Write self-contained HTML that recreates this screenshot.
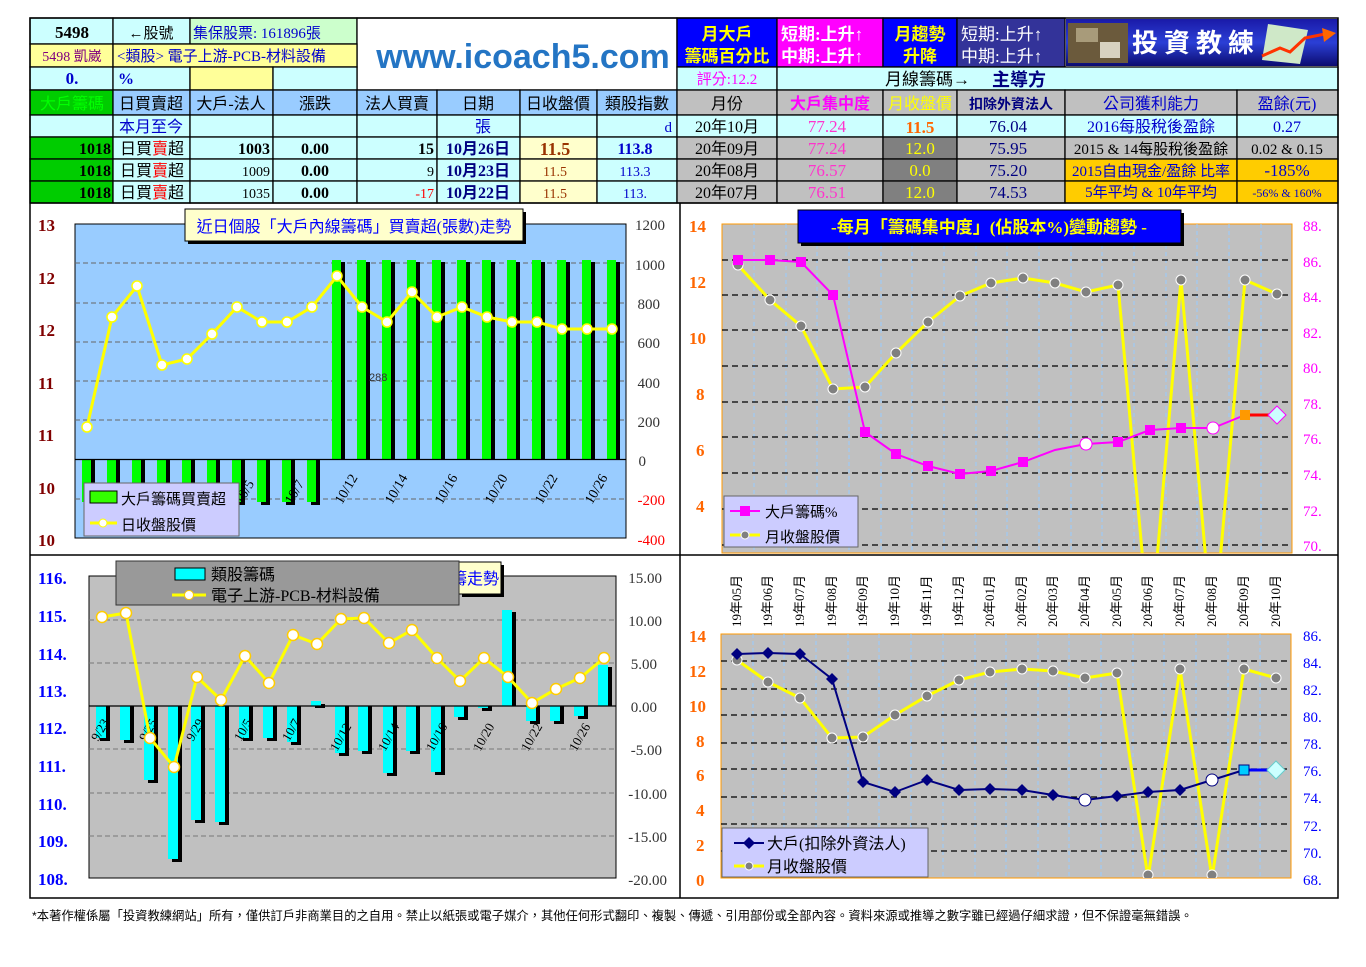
<!DOCTYPE html>
<html><head><meta charset="utf-8"><style>
html,body{margin:0;padding:0;background:#fff;width:1366px;height:967px;overflow:hidden}
svg{display:block}
text{font-family:"Liberation Serif","Noto Sans CJK TC",serif}
.s{font-family:"Liberation Sans","Noto Sans CJK TC",sans-serif}
</style></head><body>
<svg width="1366" height="967" viewBox="0 0 1366 967" xmlns="http://www.w3.org/2000/svg">
<defs>
<linearGradient id="bn" x1="0" y1="0" x2="0" y2="1"><stop offset="0" stop-color="#1a1aa8"/><stop offset="0.5" stop-color="#2b3fd6"/><stop offset="1" stop-color="#0c0c70"/></linearGradient>
<clipPath id="c2"><rect x="722" y="224" width="570" height="329"/></clipPath>
<clipPath id="c4"><rect x="721" y="634" width="570" height="244"/></clipPath>
<clipPath id="t3"><rect x="459" y="562" width="42" height="32"/></clipPath>
</defs>

<!-- ============ HEADER TABLE LEFT ============ -->
<g stroke="#000" stroke-width="1.3">
<rect x="30" y="18" width="83" height="26" fill="#ccffff"/>
<rect x="113" y="18" width="77" height="26" fill="#ccffff"/>
<rect x="190" y="18" width="167" height="26" fill="#ccffcc"/>
<rect x="357" y="18" width="320" height="72" fill="#fff"/>
<rect x="30" y="44" width="83" height="23" fill="#ffff99"/>
<rect x="113" y="44" width="244" height="23" fill="#ffff99"/>
<rect x="30" y="67" width="83" height="23" fill="#ccffff"/>
<rect x="113" y="67" width="77" height="23" fill="#ccffff"/>
<rect x="190" y="67" width="83" height="23" fill="#ffff99"/>
<rect x="273" y="67" width="84" height="23" fill="#ccffff"/>
</g>
<text x="72" y="38" font-size="17" font-weight="bold" text-anchor="middle">5498</text>
<text x="151" y="38" font-size="15" text-anchor="middle">←股號</text>
<text x="193" y="38" font-size="15" fill="#0000cc">集保股票: 161896張</text>
<text x="72" y="61" font-size="14" fill="#800080" text-anchor="middle">5498 凱崴</text>
<text x="117" y="61" font-size="15" fill="#0000cc">&lt;類股&gt; 電子上游-PCB-材料設備</text>
<text x="72" y="84" font-size="17" font-weight="bold" fill="#0000cc" text-anchor="middle">0.</text>
<text x="118" y="84" font-size="16" font-weight="bold" fill="#0000cc">%</text>
<text x="523" y="68" font-size="34" font-weight="bold" fill="#2475c4" text-anchor="middle" class="s">www.icoach5.com</text>

<g stroke="#000" stroke-width="1.3">
<rect x="30" y="90" width="83" height="25" fill="#00cc00"/>
<rect x="113" y="90" width="77" height="25" fill="#99ccff"/>
<rect x="190" y="90" width="83" height="25" fill="#99ccff"/>
<rect x="273" y="90" width="84" height="25" fill="#99ccff"/>
<rect x="357" y="90" width="80" height="25" fill="#99ccff"/>
<rect x="437" y="90" width="83" height="25" fill="#99ccff"/>
<rect x="520" y="90" width="77" height="25" fill="#99ccff"/>
<rect x="597" y="90" width="80" height="25" fill="#99ccff"/>
<rect x="30" y="115" width="83" height="22" fill="#ccffff"/>
<rect x="113" y="115" width="77" height="22" fill="#ccffff"/>
<rect x="190" y="115" width="83" height="22" fill="#ccffff"/>
<rect x="273" y="115" width="84" height="22" fill="#ccffff"/>
<rect x="357" y="115" width="80" height="22" fill="#ccffff"/>
<rect x="437" y="115" width="83" height="22" fill="#ccffff"/>
<rect x="520" y="115" width="77" height="22" fill="#ccffff"/>
<rect x="597" y="115" width="80" height="22" fill="#ccffff"/>
</g>
<text x="72" y="109" font-size="16" fill="#00ff00" text-anchor="middle">大戶籌碼</text>
<text x="151" y="109" font-size="16" text-anchor="middle">日買賣超</text>
<text x="231" y="109" font-size="16" text-anchor="middle">大戶-法人</text>
<text x="315" y="109" font-size="16" text-anchor="middle">漲跌</text>
<text x="397" y="109" font-size="16" text-anchor="middle">法人買賣</text>
<text x="478" y="109" font-size="16" text-anchor="middle">日期</text>
<text x="558" y="109" font-size="16" text-anchor="middle">日收盤價</text>
<text x="637" y="109" font-size="16" text-anchor="middle">類股指數</text>
<text x="151" y="132" font-size="16" fill="#0000cc" text-anchor="middle">本月至今</text>
<text x="483" y="132" font-size="16" fill="#0000cc" text-anchor="middle">張</text>
<text x="672" y="132" font-size="15" fill="#0000cc" text-anchor="end">d</text>

<g stroke="#000" stroke-width="1.3">
<rect x="30" y="137" width="83" height="22" fill="#00cc00"/><rect x="113" y="137" width="77" height="22" fill="#ccffff"/><rect x="190" y="137" width="83" height="22" fill="#ccffff"/><rect x="273" y="137" width="84" height="22" fill="#ccffff"/><rect x="357" y="137" width="80" height="22" fill="#ccffff"/><rect x="437" y="137" width="83" height="22" fill="#ccffff"/><rect x="520" y="137" width="77" height="22" fill="#ffffcc"/><rect x="597" y="137" width="80" height="22" fill="#ccffff"/>
<rect x="30" y="159" width="83" height="22" fill="#00cc00"/><rect x="113" y="159" width="77" height="22" fill="#ccffff"/><rect x="190" y="159" width="83" height="22" fill="#ccffff"/><rect x="273" y="159" width="84" height="22" fill="#ccffff"/><rect x="357" y="159" width="80" height="22" fill="#ccffff"/><rect x="437" y="159" width="83" height="22" fill="#ccffff"/><rect x="520" y="159" width="77" height="22" fill="#ffffcc"/><rect x="597" y="159" width="80" height="22" fill="#ccffff"/>
<rect x="30" y="181" width="83" height="22" fill="#00cc00"/><rect x="113" y="181" width="77" height="22" fill="#ccffff"/><rect x="190" y="181" width="83" height="22" fill="#ccffff"/><rect x="273" y="181" width="84" height="22" fill="#ccffff"/><rect x="357" y="181" width="80" height="22" fill="#ccffff"/><rect x="437" y="181" width="83" height="22" fill="#ccffff"/><rect x="520" y="181" width="77" height="22" fill="#ffffcc"/><rect x="597" y="181" width="80" height="22" fill="#ccffff"/>
</g>
<g font-size="16">
<text x="111" y="154" font-weight="bold" text-anchor="end">1018</text><text x="120" y="154">日買<tspan fill="#ff0000">賣</tspan>超</text><text x="270" y="154" font-weight="bold" text-anchor="end">1003</text><text x="315" y="154" font-weight="bold" text-anchor="middle">0.00</text><text x="434" y="154" font-weight="bold" text-anchor="end">15</text><text x="478" y="154" font-weight="bold" fill="#000080" text-anchor="middle">10月26日</text><text x="555" y="155" font-size="18" font-weight="bold" fill="#993300" text-anchor="middle">11.5</text><text x="635" y="154" font-weight="bold" fill="#0000cc" text-anchor="middle">113.8</text>
<text x="111" y="176" font-weight="bold" text-anchor="end">1018</text><text x="120" y="176">日買<tspan fill="#ff0000">賣</tspan>超</text><text x="270" y="176" font-size="14" text-anchor="end">1009</text><text x="315" y="176" font-weight="bold" text-anchor="middle">0.00</text><text x="434" y="176" font-size="14" text-anchor="end">9</text><text x="478" y="176" font-weight="bold" fill="#000080" text-anchor="middle">10月23日</text><text x="555" y="176" font-size="14" fill="#993300" text-anchor="middle">11.5</text><text x="635" y="176" font-size="14" fill="#0000cc" text-anchor="middle">113.3</text>
<text x="111" y="198" font-weight="bold" text-anchor="end">1018</text><text x="120" y="198">日買<tspan fill="#ff0000">賣</tspan>超</text><text x="270" y="198" font-size="14" text-anchor="end">1035</text><text x="315" y="198" font-weight="bold" text-anchor="middle">0.00</text><text x="434" y="198" font-size="14" fill="#ff0000" text-anchor="end">-17</text><text x="478" y="198" font-weight="bold" fill="#000080" text-anchor="middle">10月22日</text><text x="555" y="198" font-size="14" fill="#993300" text-anchor="middle">11.5</text><text x="635" y="198" font-size="14" fill="#0000cc" text-anchor="middle">113.</text>
</g>

<!-- ============ HEADER RIGHT ============ -->
<g stroke="#000" stroke-width="1.3">
<rect x="677" y="18" width="100" height="49" fill="#0000ff"/>
<rect x="777" y="18" width="106" height="49" fill="#ff00ff"/>
<rect x="883" y="18" width="74" height="49" fill="#0000ff"/>
<rect x="957" y="18" width="108" height="49" fill="#333399"/>
<rect x="677" y="67" width="100" height="23" fill="#ccffff"/>
<rect x="777" y="67" width="561" height="23" fill="#ccffff"/>
<rect x="677" y="90" width="100" height="25" fill="#c0c0c0"/><rect x="777" y="90" width="106" height="25" fill="#c0c0c0"/><rect x="883" y="90" width="74" height="25" fill="#c0c0c0"/><rect x="957" y="90" width="108" height="25" fill="#c0c0c0"/><rect x="1065" y="90" width="172" height="25" fill="#c0c0c0"/><rect x="1237" y="90" width="101" height="25" fill="#c0c0c0"/>
<rect x="677" y="115" width="100" height="22" fill="#ccffff"/><rect x="777" y="115" width="106" height="22" fill="#ccffff"/><rect x="883" y="115" width="74" height="22" fill="#ccffff"/><rect x="957" y="115" width="108" height="22" fill="#ccffff"/><rect x="1065" y="115" width="172" height="22" fill="#ccffff"/><rect x="1237" y="115" width="101" height="22" fill="#ccffff"/>
<rect x="677" y="137" width="100" height="22" fill="#c0c0c0"/><rect x="777" y="137" width="106" height="22" fill="#c0c0c0"/><rect x="883" y="137" width="74" height="22" fill="#808080"/><rect x="957" y="137" width="108" height="22" fill="#c0c0c0"/><rect x="1065" y="137" width="172" height="22" fill="#c0c0c0"/><rect x="1237" y="137" width="101" height="22" fill="#c0c0c0"/>
<rect x="677" y="159" width="100" height="22" fill="#c0c0c0"/><rect x="777" y="159" width="106" height="22" fill="#c0c0c0"/><rect x="883" y="159" width="74" height="22" fill="#808080"/><rect x="957" y="159" width="108" height="22" fill="#c0c0c0"/><rect x="1065" y="159" width="172" height="22" fill="#ffcc00"/><rect x="1237" y="159" width="101" height="22" fill="#ffcc00"/>
<rect x="677" y="181" width="100" height="22" fill="#c0c0c0"/><rect x="777" y="181" width="106" height="22" fill="#c0c0c0"/><rect x="883" y="181" width="74" height="22" fill="#808080"/><rect x="957" y="181" width="108" height="22" fill="#c0c0c0"/><rect x="1065" y="181" width="172" height="22" fill="#ffcc00"/><rect x="1237" y="181" width="101" height="22" fill="#ffcc00"/>
</g>
<rect x="1066" y="19" width="272" height="47" fill="url(#bn)"/>
<rect x="1068" y="23" width="60" height="40" fill="#6b5a3c"/>
<rect x="1076" y="28" width="22" height="14" fill="#a89b7a"/><rect x="1100" y="42" width="20" height="16" fill="#d8d2c0"/>
<polygon points="1268,24 1308,30 1300,64 1262,60" fill="#cfe8c8"/>
<polyline points="1262,56 1280,48 1290,52 1305,38 1325,34" fill="none" stroke="#ff3300" stroke-width="3"/>
<polygon points="1322,28 1336,33 1324,42" fill="#ff6600"/>
<text x="1196" y="52" font-size="26" font-weight="bold" fill="#fff" text-anchor="middle" letter-spacing="6">投資教練</text>
<g font-size="17" font-weight="bold" class="s">
<text x="727" y="40" fill="#ffff00" text-anchor="middle">月大戶</text>
<text x="727" y="62" fill="#ffff00" text-anchor="middle">籌碼百分比</text>
<text x="781" y="40" fill="#fff">短期:上升↑</text>
<text x="781" y="62" fill="#fff">中期:上升↑</text>
<text x="920" y="40" fill="#ffff00" text-anchor="middle">月趨勢</text>
<text x="920" y="62" fill="#ffff00" text-anchor="middle">升降</text>
</g>
<g font-size="17" class="s">
<text x="961" y="40" fill="#fff">短期:上升↑</text>
<text x="961" y="62" fill="#fff">中期:上升↑</text>
</g>
<text x="727" y="84" font-size="15" fill="#ff00ff" text-anchor="middle">評分:12.2</text>
<text x="885" y="85" font-size="17">月線籌碼<tspan font-weight="bold">→</tspan></text>
<text x="992" y="86" font-size="18" font-weight="bold" fill="#000080">主導方</text>
<g font-size="16" text-anchor="middle">
<text x="727" y="109">月份</text>
<text x="830" y="109" fill="#ff00ff" font-weight="bold">大戶集中度</text>
<text x="920" y="109" fill="#ffff00">月收盤價</text>
<text x="1011" y="109" fill="#000080" font-weight="bold" font-size="14">扣除外資法人</text>
<text x="1151" y="109" fill="#0000cc">公司獲利能力</text>
<text x="1287" y="109" fill="#0000cc">盈餘(元)</text>
<text x="727" y="132">20年10月</text><text x="827" y="132" fill="#ff33cc" font-size="17">77.24</text><text x="920" y="133" fill="#ff6600" font-size="17" font-weight="bold">11.5</text><text x="1008" y="132" fill="#000080" font-size="17">76.04</text><text x="1151" y="132" fill="#0000cc">2016每股稅後盈餘</text><text x="1287" y="132" fill="#0000cc">0.27</text>
<text x="727" y="154">20年09月</text><text x="827" y="154" fill="#ff33cc" font-size="17">77.24</text><text x="920" y="154" fill="#ffff00" font-size="17">12.0</text><text x="1008" y="154" fill="#000080" font-size="17">75.95</text><text x="1151" y="154" font-size="15">2015 &amp; 14每股稅後盈餘</text><text x="1287" y="154" font-size="15">0.02 &amp; 0.15</text>
<text x="727" y="176">20年08月</text><text x="827" y="176" fill="#ff33cc" font-size="17">76.57</text><text x="920" y="176" fill="#ffff00" font-size="17">0.0</text><text x="1008" y="176" fill="#000080" font-size="17">75.20</text><text x="1151" y="176" fill="#0000cc" font-size="15">2015自由現金/盈餘 比率</text><text x="1287" y="176" fill="#0000cc" font-size="17">-185%</text>
<text x="727" y="198">20年07月</text><text x="827" y="198" fill="#ff33cc" font-size="17">76.51</text><text x="920" y="198" fill="#ffff00" font-size="17">12.0</text><text x="1008" y="198" fill="#000080" font-size="17">74.53</text><text x="1151" y="197" fill="#0000cc" font-size="15">5年平均 &amp;  10年平均</text><text x="1287" y="197" fill="#0000cc" font-size="12">-56% &amp; 160%</text>
</g>

<!-- ============ CHART 1 ============ -->
<rect x="75" y="224" width="551" height="314" fill="#99ccff" stroke="#000" stroke-width="1"/>
<g stroke="#666" stroke-dasharray="5,3" stroke-width="1">
<line x1="75" y1="263" x2="626" y2="263"/><line x1="75" y1="303" x2="626" y2="303"/><line x1="75" y1="342" x2="626" y2="342"/><line x1="75" y1="381" x2="626" y2="381"/><line x1="75" y1="420" x2="626" y2="420"/><line x1="75" y1="499" x2="626" y2="499"/>
</g>
<g fill="#000">
<rect x="86" y="459" width="9" height="46"/><rect x="111" y="459" width="9" height="46"/><rect x="136" y="459" width="9" height="46"/><rect x="161" y="459" width="9" height="46"/><rect x="186" y="459" width="9" height="46"/><rect x="211" y="459" width="9" height="46"/><rect x="236" y="459" width="9" height="46"/><rect x="261" y="459" width="9" height="46"/><rect x="286" y="459" width="9" height="46"/><rect x="311" y="459" width="9" height="46"/>
<rect x="336" y="262" width="9" height="197"/><rect x="361" y="262" width="9" height="197"/><rect x="386" y="262" width="9" height="197"/><rect x="411" y="262" width="9" height="197"/><rect x="436" y="262" width="9" height="197"/><rect x="461" y="262" width="9" height="197"/><rect x="486" y="262" width="9" height="197"/><rect x="511" y="262" width="9" height="197"/><rect x="536" y="262" width="9" height="197"/><rect x="561" y="262" width="9" height="197"/><rect x="586" y="262" width="9" height="197"/><rect x="611" y="262" width="9" height="197"/>
</g>
<g fill="#00ff00">
<rect x="82" y="459" width="9" height="43"/><rect x="107" y="459" width="9" height="43"/><rect x="132" y="459" width="9" height="43"/><rect x="157" y="459" width="9" height="43"/><rect x="182" y="459" width="9" height="43"/><rect x="207" y="459" width="9" height="43"/><rect x="232" y="459" width="9" height="43"/><rect x="257" y="459" width="9" height="43"/><rect x="282" y="459" width="9" height="43"/><rect x="307" y="459" width="9" height="43"/>
<rect x="332" y="260" width="9" height="199"/><rect x="357" y="260" width="9" height="199"/><rect x="382" y="260" width="9" height="199"/><rect x="407" y="260" width="9" height="199"/><rect x="432" y="260" width="9" height="199"/><rect x="457" y="260" width="9" height="199"/><rect x="482" y="260" width="9" height="199"/><rect x="507" y="260" width="9" height="199"/><rect x="532" y="260" width="9" height="199"/><rect x="557" y="260" width="9" height="199"/><rect x="582" y="260" width="9" height="199"/><rect x="607" y="260" width="9" height="199"/>
</g>
<line x1="75" y1="459.5" x2="626" y2="459.5" stroke="#000" stroke-width="1.3"/>
<text x="369" y="381" font-size="11" fill="#333" class="s">288</text>
<polyline points="87,427 112,317 137,286 162,365 187,359 212,334 237,307 262,322 287,322 312,307 337,276 362,307 387,322 412,292 437,317 462,307 487,317 512,322 537,322 562,329 587,329 612,329" fill="none" stroke="#ffff00" stroke-width="3"/>
<g fill="#fff" stroke="#ffff00" stroke-width="1.5">
<circle cx="87" cy="427" r="5"/><circle cx="112" cy="317" r="5"/><circle cx="137" cy="286" r="5"/><circle cx="162" cy="365" r="5"/><circle cx="187" cy="359" r="5"/><circle cx="212" cy="334" r="5"/><circle cx="237" cy="307" r="5"/><circle cx="262" cy="322" r="5"/><circle cx="287" cy="322" r="5"/><circle cx="312" cy="307" r="5"/><circle cx="337" cy="276" r="5"/><circle cx="362" cy="307" r="5"/><circle cx="387" cy="322" r="5"/><circle cx="412" cy="292" r="5"/><circle cx="437" cy="317" r="5"/><circle cx="462" cy="307" r="5"/><circle cx="487" cy="317" r="5"/><circle cx="512" cy="322" r="5"/><circle cx="537" cy="322" r="5"/><circle cx="562" cy="329" r="5"/><circle cx="587" cy="329" r="5"/><circle cx="612" cy="329" r="5"/>
</g>
<g font-size="14" fill="#000">
<text transform="translate(242,505) rotate(-60)">10/5</text>
<text transform="translate(292,505) rotate(-60)">10/7</text>
<text transform="translate(342,505) rotate(-60)">10/12</text>
<text transform="translate(392,505) rotate(-60)">10/14</text>
<text transform="translate(442,505) rotate(-60)">10/16</text>
<text transform="translate(492,505) rotate(-60)">10/20</text>
<text transform="translate(542,505) rotate(-60)">10/22</text>
<text transform="translate(592,505) rotate(-60)">10/26</text>
</g>
<g font-size="17" fill="#800000" font-weight="bold">
<text x="38" y="231">13</text><text x="38" y="284">12</text><text x="38" y="336">12</text><text x="38" y="389">11</text><text x="38" y="441">11</text><text x="38" y="494">10</text><text x="38" y="546">10</text>
</g>
<g font-size="15" fill="#333" text-anchor="end">
<text x="665" y="230">1200</text><text x="665" y="270">1000</text><text x="660" y="309">800</text><text x="660" y="348">600</text><text x="660" y="388">400</text><text x="660" y="427">200</text><text x="646" y="466">0</text><text x="665" y="505" fill="#ff0000">-200</text><text x="665" y="545" fill="#ff0000">-400</text>
</g>
<rect x="188" y="212" width="338" height="32" fill="#000"/>
<rect x="185" y="209" width="338" height="32" fill="#ffffcc" stroke="#000"/>
<text x="354" y="232" font-size="16" fill="#0000ff" text-anchor="middle">近日個股「大戶內線籌碼」買賣超(張數)走勢</text>
<rect x="84" y="483" width="155" height="53" fill="#ccccff" stroke="#666"/>
<rect x="90" y="491" width="27" height="12" fill="#33ff00" stroke="#000"/>
<text x="121" y="504" font-size="15">大戶籌碼買賣超</text>
<line x1="90" y1="523" x2="117" y2="523" stroke="#ffff00" stroke-width="3"/><circle cx="103" cy="523" r="4" fill="#fff" stroke="#ffff00"/>
<text x="121" y="530" font-size="15">日收盤股價</text>

<!-- ============ CHART 2 ============ -->
<rect x="722" y="224" width="570" height="329" fill="#c0c0c0" stroke="#ff9900" stroke-width="1"/>
<g stroke="#99ccff" stroke-dasharray="4,3" stroke-width="1">
<line x1="754" y1="224" x2="754" y2="553"/><line x1="786" y1="224" x2="786" y2="553"/><line x1="817" y1="224" x2="817" y2="553"/><line x1="849" y1="224" x2="849" y2="553"/><line x1="881" y1="224" x2="881" y2="553"/><line x1="912" y1="224" x2="912" y2="553"/><line x1="944" y1="224" x2="944" y2="553"/><line x1="976" y1="224" x2="976" y2="553"/><line x1="1007" y1="224" x2="1007" y2="553"/><line x1="1039" y1="224" x2="1039" y2="553"/><line x1="1071" y1="224" x2="1071" y2="553"/><line x1="1102" y1="224" x2="1102" y2="553"/><line x1="1134" y1="224" x2="1134" y2="553"/><line x1="1166" y1="224" x2="1166" y2="553"/><line x1="1197" y1="224" x2="1197" y2="553"/><line x1="1229" y1="224" x2="1229" y2="553"/><line x1="1261" y1="224" x2="1261" y2="553"/>
</g>
<g stroke="#000" stroke-dasharray="6,4" stroke-width="1.2">
<line x1="722" y1="260" x2="1292" y2="260"/><line x1="722" y1="295" x2="1292" y2="295"/><line x1="722" y1="330" x2="1292" y2="330"/><line x1="722" y1="366" x2="1292" y2="366"/><line x1="722" y1="402" x2="1292" y2="402"/><line x1="722" y1="437" x2="1292" y2="437"/><line x1="722" y1="473" x2="1292" y2="473"/><line x1="722" y1="509" x2="1292" y2="509"/><line x1="722" y1="545" x2="1292" y2="545"/>
</g>
<g clip-path="url(#c2)">
<polyline points="738,265 770,300 801,326 833,389 865,387 896,353 928,322 960,296 991,283 1023,278 1055,283 1086,292 1118,285 1150,640 1181,280 1213,640 1245,280 1277,294" fill="none" stroke="#ffff00" stroke-width="3"/>
<polyline points="738,260 770,260 801,262 833,295 865,432 896,454 928,466 960,474 991,471 1023,462 1055,450 1086,444 1118,442 1150,430 1181,428 1213,428 1245,415" fill="none" stroke="#ff00ff" stroke-width="2"/>
<line x1="1245" y1="415" x2="1277" y2="415" stroke="#ff0000" stroke-width="3"/>
<g fill="#808080" stroke="#fff" stroke-width="1">
<circle cx="738" cy="265" r="5"/><circle cx="770" cy="300" r="5"/><circle cx="801" cy="326" r="5"/><circle cx="833" cy="389" r="5"/><circle cx="865" cy="387" r="5"/><circle cx="896" cy="353" r="5"/><circle cx="928" cy="322" r="5"/><circle cx="960" cy="296" r="5"/><circle cx="991" cy="283" r="5"/><circle cx="1023" cy="278" r="5"/><circle cx="1055" cy="283" r="5"/><circle cx="1086" cy="292" r="5"/><circle cx="1118" cy="285" r="5"/><circle cx="1181" cy="280" r="5"/><circle cx="1245" cy="280" r="5"/><circle cx="1277" cy="294" r="5"/>
</g>
<g fill="#ff00ff">
<rect x="733" y="255" width="10" height="10"/><rect x="765" y="255" width="10" height="10"/><rect x="796" y="257" width="10" height="10"/><rect x="828" y="290" width="10" height="10"/><rect x="860" y="427" width="10" height="10"/><rect x="891" y="449" width="10" height="10"/><rect x="923" y="461" width="10" height="10"/><rect x="955" y="469" width="10" height="10"/><rect x="986" y="466" width="10" height="10"/><rect x="1018" y="457" width="10" height="10"/><rect x="1081" y="439" width="10" height="10"/><rect x="1113" y="437" width="10" height="10"/><rect x="1145" y="425" width="10" height="10"/><rect x="1176" y="423" width="10" height="10"/>
</g>
<circle cx="1086" cy="444" r="6" fill="#fff" stroke="#ff00ff"/>
<circle cx="1213" cy="428" r="6" fill="#fff" stroke="#ff00ff"/>
<rect x="1240" y="410" width="10" height="10" fill="#ff9900"/>
<polygon points="1277,406 1286,415 1277,424 1268,415" fill="#ccffff" stroke="#ff00ff"/>
</g>
<g font-size="17" fill="#ff6600" font-weight="bold">
<text x="689" y="232">14</text><text x="689" y="288">12</text><text x="689" y="344">10</text><text x="696" y="400">8</text><text x="696" y="456">6</text><text x="696" y="512">4</text>
</g>
<g font-size="15" fill="#ff00ff">
<text x="1303" y="231">88.</text><text x="1303" y="267">86.</text><text x="1303" y="302">84.</text><text x="1303" y="338">82.</text><text x="1303" y="373">80.</text><text x="1303" y="409">78.</text><text x="1303" y="444">76.</text><text x="1303" y="480">74.</text><text x="1303" y="516">72.</text><text x="1303" y="551">70.</text>
</g>
<rect x="801" y="213" width="383" height="33" fill="#000"/>
<rect x="798" y="210" width="383" height="33" fill="#0000ff" stroke="#000"/>
<text x="989" y="233" font-size="17" font-weight="bold" fill="#ffff00" text-anchor="middle">-每月「籌碼集中度」(佔股本%)變動趨勢 -</text>
<rect x="724" y="496" width="134" height="51" fill="#ccccff" stroke="#666"/>
<line x1="730" y1="511" x2="760" y2="511" stroke="#ff00ff" stroke-width="2"/><rect x="740" y="506" width="10" height="10" fill="#ff00ff"/>
<text x="765" y="517" font-size="15">大戶籌碼%</text>
<line x1="730" y1="535" x2="760" y2="535" stroke="#ffff00" stroke-width="3"/><circle cx="745" cy="535" r="4" fill="#808080" stroke="#fff"/>
<text x="765" y="542" font-size="15">月收盤股價</text>

<!-- ============ CHART 3 ============ -->
<rect x="89" y="576" width="527" height="302" fill="#c0c0c0" stroke="#000" stroke-width="1"/>
<g stroke="#777" stroke-dasharray="5,3" stroke-width="1">
<line x1="89" y1="620" x2="616" y2="620"/><line x1="89" y1="663" x2="616" y2="663"/><line x1="89" y1="749" x2="616" y2="749"/><line x1="89" y1="793" x2="616" y2="793"/><line x1="89" y1="836" x2="616" y2="836"/>
</g>
<g fill="#000">
<rect x="100" y="706" width="10" height="35"/><rect x="124" y="706" width="10" height="37"/><rect x="148" y="706" width="10" height="77"/><rect x="172" y="706" width="10" height="156"/><rect x="195" y="706" width="10" height="117"/><rect x="219" y="706" width="10" height="119"/><rect x="243" y="706" width="10" height="35"/><rect x="267" y="706" width="10" height="35"/><rect x="291" y="706" width="10" height="39"/><rect x="315" y="704" width="10" height="4"/><rect x="339" y="706" width="10" height="50"/><rect x="362" y="706" width="10" height="48"/><rect x="387" y="706" width="10" height="70"/><rect x="410" y="706" width="10" height="48"/><rect x="435" y="706" width="10" height="69"/><rect x="458" y="706" width="10" height="14"/><rect x="482" y="706" width="10" height="5"/><rect x="506" y="612" width="10" height="94"/><rect x="530" y="706" width="10" height="18"/><rect x="554" y="706" width="10" height="18"/><rect x="578" y="706" width="10" height="13"/><rect x="602" y="667" width="10" height="39"/>
</g>
<g fill="#00ffff">
<rect x="96" y="706" width="10" height="32"/><rect x="120" y="706" width="10" height="34"/><rect x="144" y="706" width="10" height="74"/><rect x="168" y="706" width="10" height="153"/><rect x="191" y="706" width="10" height="114"/><rect x="215" y="706" width="10" height="116"/><rect x="239" y="706" width="10" height="32"/><rect x="263" y="706" width="10" height="32"/><rect x="287" y="706" width="10" height="36"/><rect x="311" y="701" width="10" height="5"/><rect x="335" y="706" width="10" height="47"/><rect x="358" y="706" width="10" height="45"/><rect x="383" y="706" width="10" height="67"/><rect x="406" y="706" width="10" height="45"/><rect x="431" y="706" width="10" height="66"/><rect x="454" y="706" width="10" height="11"/><rect x="478" y="706" width="10" height="2"/><rect x="502" y="610" width="10" height="96"/><rect x="526" y="706" width="10" height="15"/><rect x="550" y="706" width="10" height="15"/><rect x="574" y="706" width="10" height="10"/><rect x="598" y="665" width="10" height="41"/>
</g>
<line x1="89" y1="706" x2="616" y2="706" stroke="#000" stroke-width="1.2"/>
<g font-size="13" fill="#000">
<text transform="translate(98,742) rotate(-60)">9/23</text>
<text transform="translate(146,742) rotate(-60)">9/25</text>
<text transform="translate(193,742) rotate(-60)">9/29</text>
<text transform="translate(241,742) rotate(-60)">10/5</text>
<text transform="translate(289,742) rotate(-60)">10/7</text>
<text transform="translate(337,752) rotate(-60)">10/12</text>
<text transform="translate(385,752) rotate(-60)">10/14</text>
<text transform="translate(433,752) rotate(-60)">10/16</text>
<text transform="translate(480,752) rotate(-60)">10/20</text>
<text transform="translate(528,752) rotate(-60)">10/22</text>
<text transform="translate(576,752) rotate(-60)">10/26</text>
</g>
<polyline points="102,617 126,613 150,738 174,767 197,677 221,700 245,656 269,683 293,635 317,644 341,619 364,618 389,643 412,630 437,658 460,681 484,658 508,677 532,703 556,689 580,678 604,658" fill="none" stroke="#ffff00" stroke-width="3"/>
<g fill="#fff" stroke="#ffcc00" stroke-width="1.5">
<circle cx="102" cy="617" r="5.5"/><circle cx="126" cy="613" r="5.5"/><circle cx="150" cy="738" r="5.5"/><circle cx="174" cy="767" r="5.5"/><circle cx="197" cy="677" r="5.5"/><circle cx="221" cy="700" r="5.5"/><circle cx="245" cy="656" r="5.5"/><circle cx="269" cy="683" r="5.5"/><circle cx="293" cy="635" r="5.5"/><circle cx="317" cy="644" r="5.5"/><circle cx="341" cy="619" r="5.5"/><circle cx="364" cy="618" r="5.5"/><circle cx="389" cy="643" r="5.5"/><circle cx="412" cy="630" r="5.5"/><circle cx="437" cy="658" r="5.5"/><circle cx="460" cy="681" r="5.5"/><circle cx="484" cy="658" r="5.5"/><circle cx="508" cy="677" r="5.5"/><circle cx="532" cy="703" r="5.5"/><circle cx="556" cy="689" r="5.5"/><circle cx="580" cy="678" r="5.5"/><circle cx="604" cy="658" r="5.5"/>
</g>
<g font-size="17" fill="#0000ff" font-weight="bold">
<text x="38" y="584">116.</text><text x="38" y="622">115.</text><text x="38" y="660">114.</text><text x="38" y="697">113.</text><text x="38" y="734">112.</text><text x="38" y="772">111.</text><text x="38" y="810">110.</text><text x="38" y="847">109.</text><text x="38" y="885">108.</text>
</g>
<g font-size="15" fill="#333" text-anchor="end">
<text x="662" y="583">15.00</text><text x="662" y="626">10.00</text><text x="657" y="669">5.00</text><text x="657" y="712">0.00</text><text x="662" y="755">-5.00</text><text x="667" y="799">-10.00</text><text x="667" y="842">-15.00</text><text x="667" y="885">-20.00</text>
</g>
<rect x="462" y="565" width="42" height="32" fill="#000"/>
<rect x="459" y="562" width="42" height="32" fill="#ffffcc" stroke="#000"/>
<text x="499" y="584" font-size="16" fill="#0000ff" text-anchor="end" clip-path="url(#t3)">籌走勢</text>
<rect x="116" y="561" width="343" height="44" fill="#999999" stroke="#333"/>
<rect x="175" y="568" width="30" height="12" fill="#00ffff" stroke="#000"/>
<text x="211" y="580" font-size="16">類股籌碼</text>
<line x1="172" y1="595" x2="206" y2="595" stroke="#ffff00" stroke-width="3"/><circle cx="189" cy="595" r="4.5" fill="#fff" stroke="#ffcc00"/>
<text x="211" y="601" font-size="16">電子上游-PCB-材料設備</text>

<!-- ============ CHART 4 ============ -->
<g font-size="13" fill="#000">
<text transform="translate(741,627) rotate(-90)">19年05月</text><text transform="translate(772,627) rotate(-90)">19年06月</text><text transform="translate(804,627) rotate(-90)">19年07月</text><text transform="translate(836,627) rotate(-90)">19年08月</text><text transform="translate(867,627) rotate(-90)">19年09月</text><text transform="translate(899,627) rotate(-90)">19年10月</text><text transform="translate(931,627) rotate(-90)">19年11月</text><text transform="translate(963,627) rotate(-90)">19年12月</text><text transform="translate(994,627) rotate(-90)">20年01月</text><text transform="translate(1026,627) rotate(-90)">20年02月</text><text transform="translate(1057,627) rotate(-90)">20年03月</text><text transform="translate(1089,627) rotate(-90)">20年04月</text><text transform="translate(1121,627) rotate(-90)">20年05月</text><text transform="translate(1152,627) rotate(-90)">20年06月</text><text transform="translate(1184,627) rotate(-90)">20年07月</text><text transform="translate(1216,627) rotate(-90)">20年08月</text><text transform="translate(1248,627) rotate(-90)">20年09月</text><text transform="translate(1280,627) rotate(-90)">20年10月</text>
</g>
<rect x="721" y="634" width="570" height="244" fill="#c0c0c0" stroke="#ff9900" stroke-width="1"/>
<g stroke="#99ccff" stroke-dasharray="4,3" stroke-width="1">
<line x1="753" y1="634" x2="753" y2="878"/><line x1="784" y1="634" x2="784" y2="878"/><line x1="816" y1="634" x2="816" y2="878"/><line x1="848" y1="634" x2="848" y2="878"/><line x1="879" y1="634" x2="879" y2="878"/><line x1="911" y1="634" x2="911" y2="878"/><line x1="943" y1="634" x2="943" y2="878"/><line x1="975" y1="634" x2="975" y2="878"/><line x1="1006" y1="634" x2="1006" y2="878"/><line x1="1038" y1="634" x2="1038" y2="878"/><line x1="1069" y1="634" x2="1069" y2="878"/><line x1="1101" y1="634" x2="1101" y2="878"/><line x1="1133" y1="634" x2="1133" y2="878"/><line x1="1164" y1="634" x2="1164" y2="878"/><line x1="1196" y1="634" x2="1196" y2="878"/><line x1="1228" y1="634" x2="1228" y2="878"/><line x1="1260" y1="634" x2="1260" y2="878"/>
</g>
<g stroke="#000" stroke-dasharray="6,4" stroke-width="1.2">
<line x1="721" y1="661" x2="1291" y2="661"/><line x1="721" y1="689" x2="1291" y2="689"/><line x1="721" y1="715" x2="1291" y2="715"/><line x1="721" y1="743" x2="1291" y2="743"/><line x1="721" y1="769" x2="1291" y2="769"/><line x1="721" y1="797" x2="1291" y2="797"/><line x1="721" y1="824" x2="1291" y2="824"/><line x1="721" y1="851" x2="1291" y2="851"/>
</g>
<g clip-path="url(#c4)">
<polyline points="737,660 768,682 800,698 832,738 863,737 895,715 927,696 959,680 990,672 1022,669 1053,671 1085,678 1117,673 1148,878 1180,669 1212,878 1244,669 1276,678" fill="none" stroke="#ffff00" stroke-width="3"/>
<polyline points="737,654 768,653 800,654 832,679 863,782 895,792 927,780 959,790 990,789 1022,790 1053,795 1085,800 1117,796 1148,792 1180,790 1212,780 1244,770" fill="none" stroke="#000080" stroke-width="2"/>
<line x1="1244" y1="770" x2="1276" y2="770" stroke="#0000ff" stroke-width="3"/>
<g fill="#808080" stroke="#fff" stroke-width="1">
<circle cx="737" cy="660" r="5"/><circle cx="768" cy="682" r="5"/><circle cx="800" cy="698" r="5"/><circle cx="832" cy="738" r="5"/><circle cx="863" cy="737" r="5"/><circle cx="895" cy="715" r="5"/><circle cx="927" cy="696" r="5"/><circle cx="959" cy="680" r="5"/><circle cx="990" cy="672" r="5"/><circle cx="1022" cy="669" r="5"/><circle cx="1053" cy="671" r="5"/><circle cx="1085" cy="678" r="5"/><circle cx="1117" cy="673" r="5"/><circle cx="1148" cy="875" r="5"/><circle cx="1180" cy="669" r="5"/><circle cx="1212" cy="875" r="5"/><circle cx="1244" cy="669" r="5"/><circle cx="1276" cy="678" r="5"/>
</g>
<g fill="#000080">
<polygon points="737,648 743,654 737,660 731,654"/><polygon points="768,647 774,653 768,659 762,653"/><polygon points="800,648 806,654 800,660 794,654"/><polygon points="832,673 838,679 832,685 826,679"/><polygon points="863,776 869,782 863,788 857,782"/><polygon points="895,786 901,792 895,798 889,792"/><polygon points="927,774 933,780 927,786 921,780"/><polygon points="959,784 965,790 959,796 953,790"/><polygon points="990,783 996,789 990,795 984,789"/><polygon points="1022,784 1028,790 1022,796 1016,790"/><polygon points="1053,789 1059,795 1053,801 1047,795"/><polygon points="1117,790 1123,796 1117,802 1111,796"/><polygon points="1148,786 1154,792 1148,798 1142,792"/><polygon points="1180,784 1186,790 1180,796 1174,790"/>
</g>
<circle cx="1085" cy="800" r="6" fill="#fff" stroke="#000080"/>
<circle cx="1212" cy="780" r="6" fill="#fff" stroke="#000080"/>
<rect x="1239" y="765" width="10" height="10" fill="#00ccff" stroke="#000080"/>
<polygon points="1276,761 1285,770 1276,779 1267,770" fill="#ccffff" stroke="#66cccc"/>
</g>
<g font-size="17" fill="#ff6600" font-weight="bold">
<text x="689" y="642">14</text><text x="689" y="677">12</text><text x="689" y="712">10</text><text x="696" y="747">8</text><text x="696" y="781">6</text><text x="696" y="816">4</text><text x="696" y="851">2</text><text x="696" y="886">0</text>
</g>
<g font-size="15" fill="#0000ff">
<text x="1303" y="641">86.</text><text x="1303" y="668">84.</text><text x="1303" y="695">82.</text><text x="1303" y="722">80.</text><text x="1303" y="749">78.</text><text x="1303" y="776">76.</text><text x="1303" y="803">74.</text><text x="1303" y="831">72.</text><text x="1303" y="858">70.</text><text x="1303" y="885">68.</text>
</g>
<rect x="722" y="828" width="206" height="49" fill="#ccccff" stroke="#666"/>
<line x1="734" y1="843" x2="764" y2="843" stroke="#000080" stroke-width="2"/><polygon points="749,837 755,843 749,849 743,843" fill="#000080"/>
<text x="767" y="849" font-size="16">大戶(扣除外資法人)</text>
<line x1="734" y1="866" x2="764" y2="866" stroke="#ffff00" stroke-width="3"/><circle cx="749" cy="866" r="4" fill="#808080" stroke="#fff"/>
<text x="767" y="872" font-size="16">月收盤股價</text>

<!-- panel borders -->
<g stroke="#000" stroke-width="1.5" fill="none">
<rect x="30" y="18" width="1308" height="880"/>
<line x1="30" y1="203" x2="1338" y2="203"/>
<line x1="30" y1="555" x2="1338" y2="555"/>
<line x1="680" y1="203" x2="680" y2="898"/>
</g>

<text x="32" y="920" font-size="12.3" class="s">*本著作權係屬「投資教練網站」所有，僅供訂戶非商業目的之自用。禁止以紙張或電子媒介，其他任何形式翻印、複製、傳遞、引用部份或全部內容。資料來源或推導之數字雖已經過仔細求證，但不保證毫無錯誤。</text>
</svg>
</body></html>
